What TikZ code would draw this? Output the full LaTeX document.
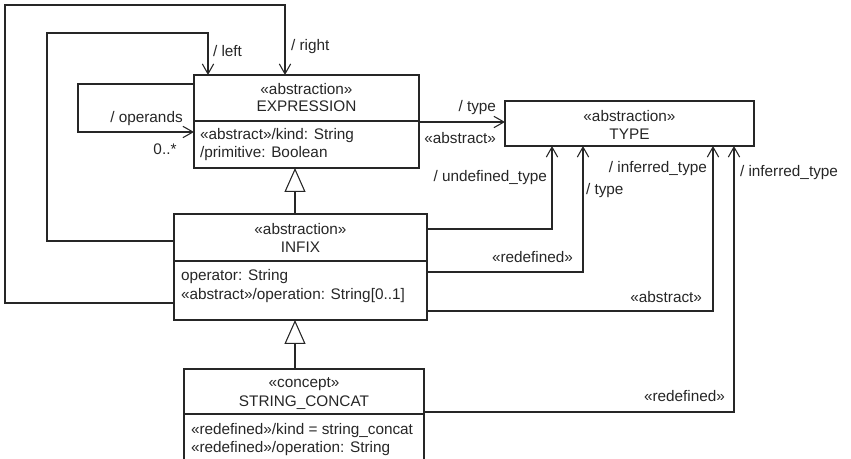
\documentclass[tikz,border=0pt]{standalone}
\usepackage{fontspec}
\setmainfont{Liberation Sans}
\usetikzlibrary{arrows.meta}
\begin{document}
\begin{tikzpicture}[x=0.75pt,y=-0.75pt,
  every node/.style={font=\fontsize{11.5pt}{13.5pt}\selectfont, inner sep=0pt, outer sep=0pt, text=black!85},
  box/.style={draw=black!85, line width=0.8pt, anchor=north west},
  ln/.style={draw=black!85, line width=0.8pt},
  conn/.style={ln, -{Straight Barb[length=7.5pt,width=8.5pt,line width=0.8pt]}},
  gen/.style={ln, -{Triangle[open,length=18pt,width=15.75pt,line width=0.8pt,fill=white]}},
  lb/.style={anchor=base},
  lw/.style={anchor=base west},
  le/.style={anchor=base east}
]
\useasboundingbox (0,0) rectangle (851,459);
\clip (0,0) rectangle (851,459);

% helper coordinates (y levels)
\coordinate (yEdiv) at (0,121);
\coordinate (yOpA) at (0,84);
\coordinate (yOpB) at (0,132);
\coordinate (yTy) at (0,122);
\coordinate (yIdiv) at (0,261);
\coordinate (yL) at (0,241);
\coordinate (yR) at (0,303);
\coordinate (yU) at (0,229);
\coordinate (yT2) at (0,272);
\coordinate (yI1) at (0,311);
\coordinate (ySdiv) at (0,414);
\coordinate (yI2) at (0,412);
\coordinate (yTopL) at (0,33);
\coordinate (yTopR) at (0,5);
% x levels
\coordinate (xOp) at (78,0);
\coordinate (xL) at (47,0);
\coordinate (xR) at (5,0);
\coordinate (xLa) at (208,0);
\coordinate (xRa) at (285,0);
\coordinate (xU) at (552,0);
\coordinate (xT2) at (583,0);
\coordinate (xI1) at (713,0);
\coordinate (xI2) at (734,0);
\coordinate (xG) at (295,0);

% boxes
\node[box, minimum width=168.75pt, minimum height=69.75pt] (expr) at (194,75) {};
\node[box, minimum width=186.75pt, minimum height=33.75pt] (type) at (505,101) {};
\node[box, minimum width=189.75pt, minimum height=79.5pt] (infix) at (174,214) {};
\node[box, minimum width=180pt, minimum height=75.75pt] (sc) at (184,369) {};

\draw[ln] (expr.west |- yEdiv) -- (expr.east |- yEdiv);
\draw[ln] (infix.west |- yIdiv) -- (infix.east |- yIdiv);
\draw[ln] (sc.west |- ySdiv) -- (sc.east |- ySdiv);

% box texts
\node[lb] (e1) at (306.5,95) {«abstraction»};
\node[lb] (e2) at (306.5,112) {EXPRESSION};
\node[lw] (e3) at (200,140) {«abstract»/kind: String};
\node[lw] (e4) at (200,158) {/primitive: Boolean};

\node[lb] (t1) at (629.5,122) {«abstraction»};
\node[lb] (t2) at (629.5,140) {TYPE};

\node[lb] (i1) at (300.5,235) {«abstraction»};
\node[lb] (i2) at (300.5,253) {INFIX};
\node[lw] (i3) at (181,281) {operator: String};
\node[lw] (i4) at (181,300) {«abstract»/operation: String[0..1]};

\node[lb] (s1) at (304,388) {«concept»};
\node[lb] (s2) at (304,407) {STRING\_CONCAT};
\node[lw] (s3) at (191,435) {«redefined»/kind = string\_concat};
\node[lw] (s4) at (191,453) {«redefined»/operation: String};

% generalizations
\draw[gen] (xG |- infix.north) -- (xG |- expr.south);
\draw[gen] (xG |- sc.north) -- (xG |- infix.south);

% associations
\draw[conn] (expr.west |- yOpA) -| (xOp |- yOpB) -- (expr.west |- yOpB);
\draw[conn] (infix.west |- yL) -| (xL |- yTopL) -| (xLa |- expr.north);
\draw[conn] (infix.west |- yR) -| (xR |- yTopR) -| (xRa |- expr.north);
\draw[conn] (expr.east |- yTy) -- (type.west |- yTy);
\draw[conn] (infix.east |- yU) -| (xU |- type.south);
\draw[conn] (infix.east |- yT2) -| (xT2 |- type.south);
\draw[conn] (infix.east |- yI1) -| (xI1 |- type.south);
\draw[conn] (sc.east |- yI2) -| (xI2 |- type.south);

% labels
\node[lb] (l1) at (146.5,123) {/ operands};
\node[lb] (l2) at (165,155) {0..*};
\node[lw] (l3) at (213,57) {/ left};
\node[lw] (l4) at (291,51) {/ right};
\node[le] (l5) at (496,112) {/ type};
\node[le] (l6) at (496,144) {«abstract»};
\node[le] (l7) at (547,182) {/ undefined\_type};
\node[lw] (l8) at (586,195) {/ type};
\node[le] (l9) at (573,263) {«redefined»};
\node[le] (l10) at (707,173) {/ inferred\_type};
\node[le] (l11) at (702,303) {«abstract»};
\node[lw] (l12) at (740,177) {/ inferred\_type};
\node[le] (l13) at (725,402) {«redefined»};
\end{tikzpicture}
\end{document}
